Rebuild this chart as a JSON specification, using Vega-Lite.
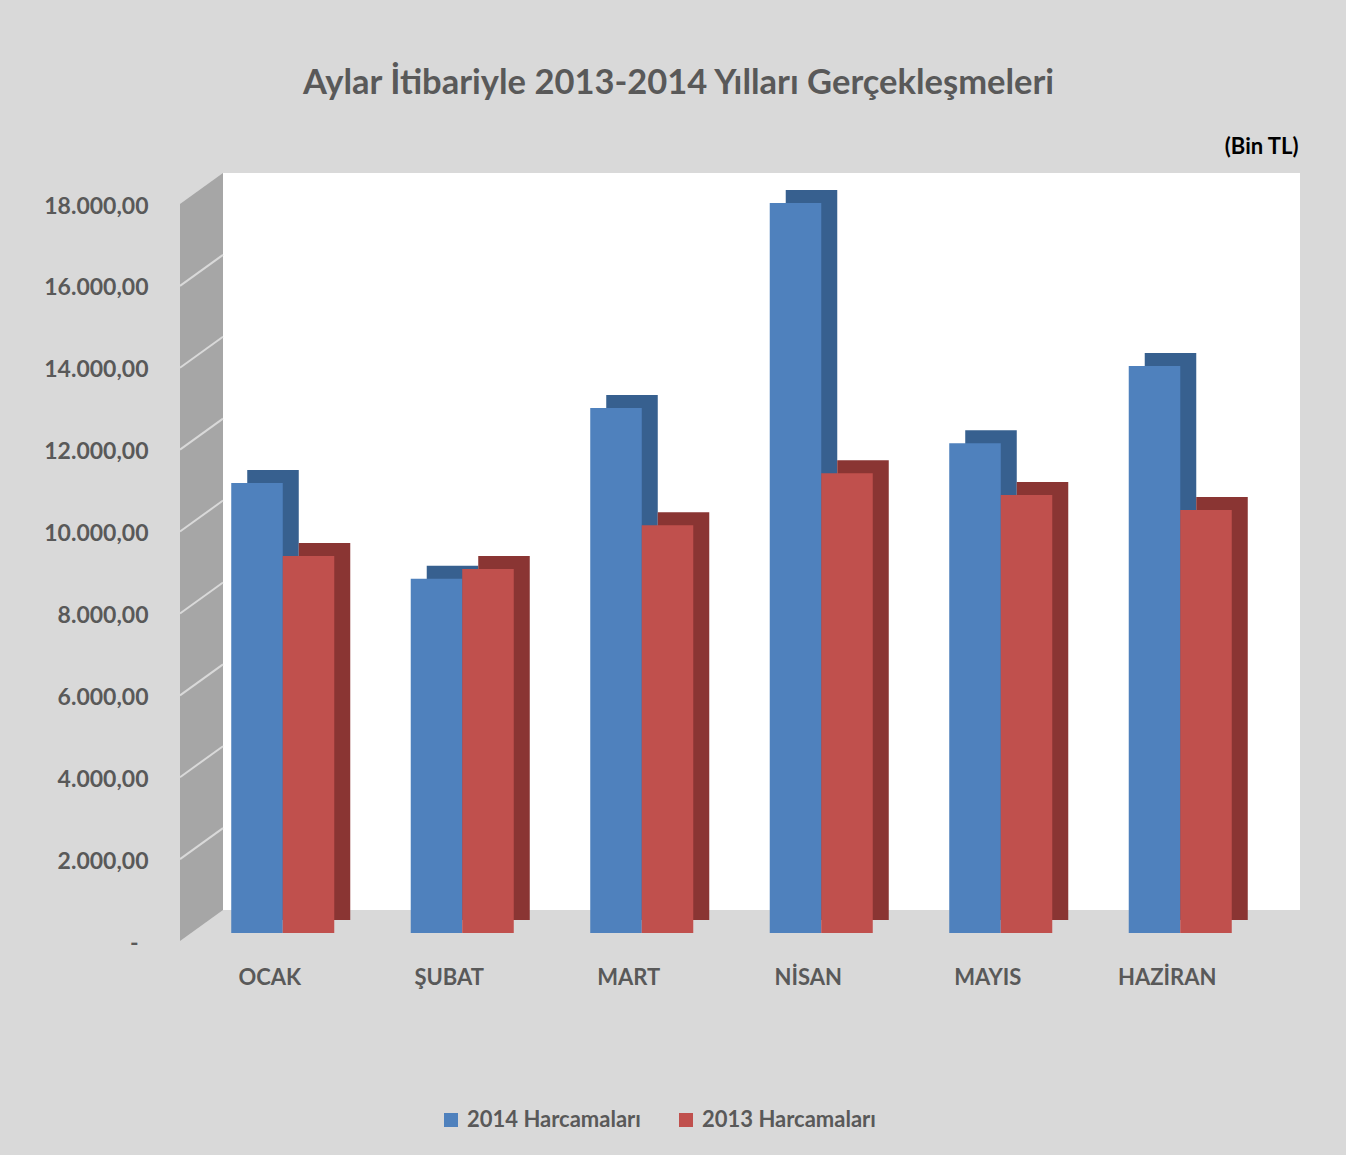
{
  "$schema": "https://vega.github.io/schema/vega-lite/v6.json",
  "autosize": "none",
  "width": 1077,
  "height": 737,
  "padding": {"left": 223, "top": 173, "right": 46, "bottom": 245},
  "background": "#d9d9d9",
  "title": {
    "text": "Aylar İtibariyle 2013-2014 Yılları Gerçekleşmeleri",
    "font": "Lato",
    "fontSize": 34.5,
    "fontWeight": "bold",
    "color": "#595959",
    "anchor": "middle",
    "dx": -83,
    "offset": 34
  },
  "config": {
    "view": {"stroke": null, "fill": "#ffffff"},
    "font": "Lato"
  },
  "data": {
    "values": [
      {"month": "OCAK", "series": "2014 Harcamaları", "value": 10990},
      {"month": "OCAK", "series": "2013 Harcamaları", "value": 9210},
      {"month": "ŞUBAT", "series": "2014 Harcamaları", "value": 8650},
      {"month": "ŞUBAT", "series": "2013 Harcamaları", "value": 8890},
      {"month": "MART", "series": "2014 Harcamaları", "value": 12820},
      {"month": "MART", "series": "2013 Harcamaları", "value": 9960},
      {"month": "NİSAN", "series": "2014 Harcamaları", "value": 17830},
      {"month": "NİSAN", "series": "2013 Harcamaları", "value": 11230},
      {"month": "MAYIS", "series": "2014 Harcamaları", "value": 11960},
      {"month": "MAYIS", "series": "2013 Harcamaları", "value": 10700},
      {"month": "HAZİRAN", "series": "2014 Harcamaları", "value": 13850},
      {"month": "HAZİRAN", "series": "2013 Harcamaları", "value": 10330}
    ]
  },
  "resolve": {"scale": {"x": "independent"}, "axis": {"x": "independent", "y": "independent"}},
  "layer": [
    {
      "data": {"values": [
        {"d": 0, "lo": -757, "hi": 17243},
        {"d": 1, "lo": 0, "hi": 18000}
      ]},
      "mark": {"type": "area", "color": "#a6a6a6", "clip": false},
      "encoding": {
        "x": {"field": "d", "type": "quantitative", "scale": {"domain": [0, 1], "range": [-43, 0]}, "axis": null},
        "y": {"field": "lo", "type": "quantitative", "scale": {"domain": [0, 18000], "nice": false}, "axis": null},
        "y2": {"field": "hi"}
      }
    },
    {
      "data": {"values": [
        {"g": 2000, "d": 0, "y": 1243}, {"g": 2000, "d": 1, "y": 2000},
        {"g": 4000, "d": 0, "y": 3243}, {"g": 4000, "d": 1, "y": 4000},
        {"g": 6000, "d": 0, "y": 5243}, {"g": 6000, "d": 1, "y": 6000},
        {"g": 8000, "d": 0, "y": 7243}, {"g": 8000, "d": 1, "y": 8000},
        {"g": 10000, "d": 0, "y": 9243}, {"g": 10000, "d": 1, "y": 10000},
        {"g": 12000, "d": 0, "y": 11243}, {"g": 12000, "d": 1, "y": 12000},
        {"g": 14000, "d": 0, "y": 13243}, {"g": 14000, "d": 1, "y": 14000},
        {"g": 16000, "d": 0, "y": 15243}, {"g": 16000, "d": 1, "y": 16000}
      ]},
      "mark": {"type": "line", "color": "#d9d9d9", "strokeWidth": 2, "clip": false},
      "encoding": {
        "x": {"field": "d", "type": "quantitative", "scale": {"domain": [0, 1], "range": [-43, 0]}, "axis": null},
        "y": {"field": "y", "type": "quantitative", "scale": {"domain": [0, 18000], "nice": false}, "axis": null},
        "detail": {"field": "g", "type": "nominal"}
      }
    },
    {
      "transform": [{"filter": "datum.series == '2014 Harcamaları'"}],
      "mark": {"type": "bar", "color": "#37608f", "width": {"band": 0.287}, "xOffset": -39.75, "yOffset": 10},
      "encoding": {
        "x": {"field": "month", "type": "nominal", "sort": null, "scale": {"paddingInner": 0, "paddingOuter": 0}, "axis": null},
        "y": {"field": "value", "type": "quantitative", "scale": {"domain": [0, 18000], "nice": false}, "axis": null}
      }
    },
    {
      "transform": [{"filter": "datum.series == '2013 Harcamaları'"}],
      "mark": {"type": "bar", "color": "#8a3533", "width": {"band": 0.287}, "xOffset": 11.75, "yOffset": 10},
      "encoding": {
        "x": {"field": "month", "type": "nominal", "sort": null, "scale": {"paddingInner": 0, "paddingOuter": 0}, "axis": null},
        "y": {"field": "value", "type": "quantitative", "scale": {"domain": [0, 18000], "nice": false}, "axis": null}
      }
    },
    {
      "transform": [{"filter": "datum.series == '2014 Harcamaları'"}],
      "mark": {"type": "bar", "width": {"band": 0.287}, "xOffset": -55.75, "yOffset": 23},
      "encoding": {
        "x": {
          "field": "month", "type": "nominal", "sort": null,
          "scale": {"paddingInner": 0, "paddingOuter": 0},
          "axis": {
            "title": null, "domain": false, "ticks": false, "grid": false,
            "labelAngle": 0, "labelOffset": -43, "labelPadding": 57,
            "labelFont": "Lato", "labelFontSize": 22, "labelFontWeight": "bold",
            "labelColor": "#595959", "labelBaseline": "top"
          }
        },
        "y": {
          "field": "value", "type": "quantitative",
          "scale": {"domain": [0, 18000], "nice": false},
          "axis": {
            "values": [0, 2000, 4000, 6000, 8000, 10000, 12000, 14000, 16000, 18000],
            "domain": false, "ticks": false,
            "gridColor": "#d9d9d9", "gridWidth": 2,
            "labelExpr": "datum.value == 0 ? '-' : replace(replace(replace(format(datum.value, ',.2f'), ',', '_'), '.', ','), '_', '.')",
            "labelOffset": 33,
            "labelPadding": {"condition": {"test": "datum.value == 0", "value": 85}, "value": 75},
            "labelFont": "Lato", "labelFontSize": 23, "labelFontWeight": "bold",
            "labelColor": "#595959",
            "title": "(Bin TL)", "titleAngle": 0, "titleX": 1075, "titleY": -27,
            "titleAlign": "right", "titleBaseline": "middle",
            "titleFont": "Lato", "titleFontSize": 22, "titleFontWeight": "bold",
            "titleColor": "#000000"
          }
        },
        "color": {
          "field": "series", "type": "nominal",
          "scale": {"domain": ["2014 Harcamaları", "2013 Harcamaları"], "range": ["#4f81bd", "#c0504d"]},
          "legend": {
            "orient": "none", "legendX": 217, "legendY": 936, "direction": "horizontal",
            "title": null, "symbolType": "square", "symbolSize": 196, "symbolStrokeWidth": 0,
            "labelFont": "Lato", "labelFontSize": 22, "labelFontWeight": "bold", "labelLimit": 0,
            "labelColor": "#595959", "columnPadding": 34, "labelOffset": 5, "padding": 0
          }
        }
      }
    },
    {
      "transform": [{"filter": "datum.series == '2013 Harcamaları'"}],
      "mark": {"type": "bar", "width": {"band": 0.287}, "xOffset": -4.25, "yOffset": 23},
      "encoding": {
        "x": {"field": "month", "type": "nominal", "sort": null, "scale": {"paddingInner": 0, "paddingOuter": 0}, "axis": null},
        "y": {"field": "value", "type": "quantitative", "scale": {"domain": [0, 18000], "nice": false}, "axis": null},
        "color": {
          "field": "series", "type": "nominal",
          "scale": {"domain": ["2014 Harcamaları", "2013 Harcamaları"], "range": ["#4f81bd", "#c0504d"]}
        }
      }
    }
  ]
}
